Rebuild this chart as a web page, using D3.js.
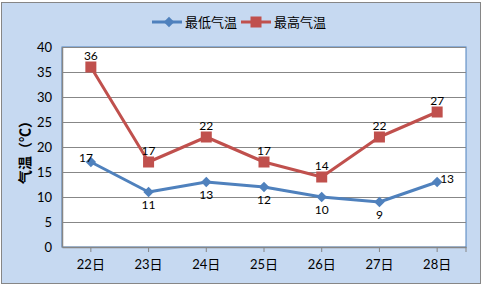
<!DOCTYPE html>
<html>
<head>
<meta charset="utf-8">
<script src="https://cdn.jsdelivr.net/npm/d3@7"></script>
<style>
  body { margin: 0; background: #fff; }
  text { font-family: Lato, "Noto Sans CJK SC", sans-serif; fill: #000; }
</style>
</head>
<body>
<svg id="chart" width="483" height="286"></svg>
<script>
// 日付と気温データ
var days = ['22日', '23日', '24日', '25日', '26日', '27日', '28日'];
var lowTemps = [17, 11, 13, 12, 10, 9, 13];
var highTemps = [36, 17, 22, 17, 14, 22, 27];
var yTicks = [0, 5, 10, 15, 20, 25, 30, 35, 40];
var seriesNames = ['最低气温', '最高气温'];
// 最低気温ラベルの位置（左・下・右）
var lowLabelPos = ['left', 'below', 'below', 'below', 'below', 'below', 'right'];

var colors = ['#4F81BD', '#C0504D'];

var svg = d3.select('#chart');

// 外枠
svg.append('rect')
  .attr('x', 1.5).attr('y', 2.5)
  .attr('width', 479).attr('height', 281)
  .attr('fill', '#C6D9F1')
  .attr('stroke', '#868686');

var margin = { left: 62, top: 47, right: 17, bottom: 39 };
var w = 483 - margin.left - margin.right;
var h = 286 - margin.top - margin.bottom;

var x = d3.scaleBand().domain(days).range([0, w]);
var y = d3.scaleLinear().domain([0, 40]).range([h, 0]);

var g = svg.append('g')
  .attr('transform', 'translate(' + margin.left + ',' + margin.top + ')');

// プロットエリア
g.append('rect')
  .attr('x', 0).attr('y', 0)
  .attr('width', w).attr('height', h)
  .attr('fill', '#fff')
  .attr('stroke', '#4F81BD')
  .attr('stroke-width', 1);

// グリッド線
g.selectAll('.grid').data(yTicks.slice(1))
  .enter().append('line')
  .attr('x1', 0).attr('x2', w)
  .attr('y1', function(d) { return Math.round(y(d)) + 0.5; })
  .attr('y2', function(d) { return Math.round(y(d)) + 0.5; })
  .attr('stroke', '#878787');

// Y軸
var yAxis = g.append('g')
  .call(d3.axisLeft(y).tickValues(yTicks).tickSize(0).tickPadding(10));
yAxis.select('.domain').attr('stroke', '#868686').attr('stroke-width', 1.5);
yAxis.selectAll('text').style('font-size', '13px').attr('fill', '#000');

// X軸
var xAxis = g.append('g')
  .attr('transform', 'translate(0,' + h + ')')
  .call(d3.axisBottom(x).tickSize(5).tickSizeOuter(0).tickPadding(8));
xAxis.select('.domain').attr('stroke', '#868686').attr('stroke-width', 1.5);
xAxis.selectAll('line').attr('stroke', '#868686');
xAxis.selectAll('text').style('font-size', '13px').attr('fill', '#000');
xAxis.append('line')
  .attr('x1', w).attr('x2', w).attr('y1', 0).attr('y2', 5)
  .attr('stroke', '#868686');

// Y軸タイトル
svg.append('text')
  .attr('transform', 'translate(30,149) rotate(-90)')
  .attr('text-anchor', 'middle')
  .style('font-size', '14px')
  .style('font-weight', 'bold')
  .text('气温（℃）');

var cx = function(d, i) { return x(days[i]) + x.bandwidth() / 2; };

var line = d3.line()
  .x(function(d, i) { return cx(d, i); })
  .y(function(d) { return y(d); });

[lowTemps, highTemps].forEach(function(data, s) {
  g.append('path')
    .datum(data)
    .attr('d', line)
    .attr('fill', 'none')
    .attr('stroke', colors[s])
    .attr('stroke-width', 3)
    .attr('stroke-linejoin', 'round');
});

// マーカー
g.selectAll('.diamond').data(lowTemps)
  .enter().append('path')
  .attr('d', d3.symbol().type(d3.symbolDiamond2).size(70))
  .attr('transform', function(d, i) { return 'translate(' + cx(d, i) + ',' + y(d) + ')'; })
  .attr('fill', colors[0]);

g.selectAll('.square').data(highTemps)
  .enter().append('rect')
  .attr('x', function(d, i) { return cx(d, i) - 5.5; })
  .attr('y', function(d) { return y(d) - 5.5; })
  .attr('width', 11).attr('height', 11)
  .attr('fill', colors[1]);

// データラベル
g.selectAll('.lowLabel').data(lowTemps)
  .enter().append('text')
  .attr('x', function(d, i) {
    var p = lowLabelPos[i];
    return cx(d, i) + (p === 'left' ? 2 : p === 'right' ? 3 : 0);
  })
  .attr('y', function(d, i) {
    var p = lowLabelPos[i];
    return y(d) + (p === 'below' ? 17 : p === 'left' ? -4 : -3);
  })
  .attr('text-anchor', function(d, i) {
    var p = lowLabelPos[i];
    return p === 'left' ? 'end' : p === 'right' ? 'start' : 'middle';
  })
  .attr('dy', function(d, i) { return lowLabelPos[i] === 'below' ? 0 : '0.35em'; })
  .style('font-size', '12px')
  .text(function(d) { return d; });

g.selectAll('.highLabel').data(highTemps)
  .enter().append('text')
  .attr('x', function(d, i) { return cx(d, i); })
  .attr('y', function(d) { return y(d) - 7; })
  .attr('text-anchor', 'middle')
  .style('font-size', '12px')
  .text(function(d) { return d; });

// 凡例
var legendX = [152, 241];
seriesNames.forEach(function(name, s) {
  var lg = svg.append('g').attr('transform', 'translate(' + legendX[s] + ',22)');
  lg.append('line')
    .attr('x1', 0).attr('x2', 30).attr('y1', 0).attr('y2', 0)
    .attr('stroke', colors[s]).attr('stroke-width', 3);
  if (s === 0) {
    lg.append('path')
      .attr('d', d3.symbol().type(d3.symbolDiamond2).size(70))
      .attr('transform', 'translate(17,0)')
      .attr('fill', colors[0]);
  } else {
    lg.append('rect')
      .attr('x', 9.5).attr('y', -5.5).attr('width', 11).attr('height', 11)
      .attr('fill', colors[1]);
  }
  lg.append('text')
    .attr('x', 33).attr('dy', '0.35em')
    .style('font-size', '13px')
    .text(name);
});
</script>
</body>
</html>
